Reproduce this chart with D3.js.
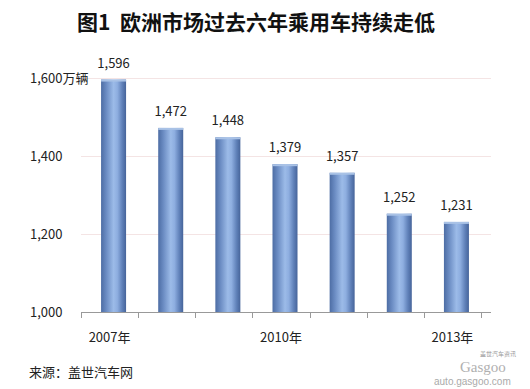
<!DOCTYPE html>
<html><head><meta charset="utf-8">
<script src="https://cdn.jsdelivr.net/npm/d3@7"></script>
<style>body{margin:0;background:#fff}svg{display:block}text{font-family:"Noto Sans CJK SC","Liberation Sans",sans-serif}</style>
</head><body>
<svg id="c" width="530" height="389"></svg>
<script>
const categories = ["2007年","2008年","2009年","2010年","2011年","2012年","2013年"];
const values = [1596,1472,1448,1379,1357,1252,1231];
const yTicks = [1000,1200,1400,1600];
const yTickLabels = ["1,000","1,200","1,400","1,600万辆"];
const shownCats = ["2007年","2010年","2013年"];

const svg = d3.select("#c");
const x = d3.scaleBand().domain(categories).range([81,481]);
const y = d3.scaleLinear().domain([1000,1600]).range([312,78]);

const defs = svg.append("defs");
const g = defs.append("linearGradient").attr("id","bar").attr("x1","0").attr("x2","1").attr("y1","0").attr("y2","0");
[["0%","#4d6da4"],["20%","#6a8bc2"],["50%","#9cbbe8"],["65%","#8eaee0"],["85%","#5f80b8"],["100%","#46649a"]]
 .forEach(s=>g.append("stop").attr("offset",s[0]).attr("stop-color",s[1]));

// title
svg.append("text").attr("x",256).attr("y",30).attr("text-anchor","middle")
  .attr("font-size",21).attr("font-weight","bold").attr("fill","#111")
  .style("white-space","pre")
  .text("图1  欧洲市场过去六年乘用车持续走低");

// gridlines
svg.selectAll(".grid").data(yTicks.slice(1)).enter().append("line")
  .attr("x1",81).attr("x2",491).attr("y1",d=>y(d)+0.5).attr("y2",d=>y(d)+0.5)
  .attr("stroke","#f4e4e4").attr("stroke-width",1);

// y labels
svg.selectAll(".yl").data(yTicks).enter().append("text")
  .attr("x",30).attr("y",d=>y(d)+5).attr("font-size",13).attr("fill","#222")
  .text((d,i)=>yTickLabels[i]);

// bars
const bw = 25;
svg.selectAll(".bar").data(values).enter().append("rect")
  .attr("x",(d,i)=>x(categories[i])+x.bandwidth()/2-bw/2+4)
  .attr("y",d=>y(d)).attr("width",bw).attr("height",d=>y(1000)-y(d))
  .attr("fill","url(#bar)");
svg.selectAll(".cap").data(values).enter().append("rect")
  .attr("x",(d,i)=>x(categories[i])+x.bandwidth()/2-bw/2+4)
  .attr("y",d=>y(d)).attr("width",bw).attr("height",2)
  .attr("fill","#a9c2e6");

// value labels
svg.selectAll(".vl").data(values).enter().append("text")
  .attr("x",(d,i)=>x(categories[i])+x.bandwidth()/2+4)
  .attr("y",d=>y(d)-12).attr("text-anchor","middle").attr("font-size",13).attr("fill","#222")
  .text(d=>d3.format(",")(d));

// x axis
svg.append("line").attr("x1",81).attr("x2",491).attr("y1",312.5).attr("y2",312.5).attr("stroke","#999");
const tickPos = categories.map(c=>x(c)).concat([x.range()[1]]);
svg.selectAll(".tk").data(tickPos).enter().append("line")
  .attr("x1",d=>Math.round(d)+0.5).attr("x2",d=>Math.round(d)+0.5).attr("y1",312).attr("y2",318).attr("stroke","#999");
svg.selectAll(".xl").data(shownCats).enter().append("text")
  .attr("x",d=>x(d)+x.bandwidth()/2).attr("y",342).attr("text-anchor","middle")
  .attr("font-size",13).attr("fill","#222").text(d=>d);

// source
svg.append("text").attr("x",29).attr("y",377).attr("font-size",13).attr("fill","#222").text("来源：盖世汽车网");

// watermark (single text block)
const wm = svg.append("text").attr("fill","#aaa");
wm.append("tspan").attr("x",480).attr("y",356).attr("font-size",6).attr("fill","#999").text("盖世汽车资讯");
wm.append("tspan").attr("x",460).attr("y",372).attr("font-size",15).attr("fill","#b0b0b0")
  .attr("font-family","Liberation Serif,serif").text("Gasgoo");
wm.append("tspan").attr("x",434).attr("y",385).attr("font-size",10)
  .attr("font-family","Liberation Sans,sans-serif").text("auto.gasgoo.com");
</script>
</body></html>
